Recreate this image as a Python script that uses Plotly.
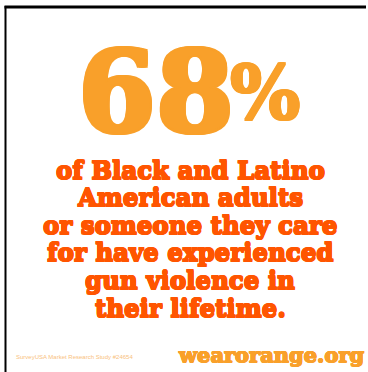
import plotly.graph_objects as go

# ---- data ----
PERCENT_VALUE = 68
PERCENT_SIGN = "%"
STATEMENT_LINES = [
    "of Black and Latino",
    "American adults",
    "or someone they care",
    "for have experienced",
    "gun violence in",
    "their lifetime.",
]
SOURCE_NOTE = "SurveyUSA Market Research Study #24654"
BRAND = "wearorange.org"

# ---- style ----
W, H = 368, 372
ORANGE = "#F9A02A"
RED_ORANGE = "#FF5500"
NOTE_COLOR = "#F9C27E"
SERIF = "DejaVu Serif"


def fatten(color, px):
    return ", ".join(f"{dx}px {dy}px 0 {color}" for dx, dy in
                     [(px, 0), (-px, 0), (0, px), (0, -px),
                      (px, px), (-px, -px), (px, -px), (-px, px)])


fig = go.Figure()
fig.add_trace(go.Scatter(x=[0, W], y=[0, H], mode="markers",
                         marker=dict(opacity=0), hoverinfo="skip", showlegend=False))

ann = []
# big number
ann.append(dict(x=156, y=91, text=str(PERCENT_VALUE), showarrow=False,
                xanchor="center", yanchor="middle",
                font=dict(family=SERIF, size=112, color=ORANGE, weight=700,
                          shadow=fatten(ORANGE, 2))))
ann.append(dict(x=265, y=93, text=PERCENT_SIGN, showarrow=False,
                xanchor="center", yanchor="middle",
                font=dict(family=SERIF, size=74, color=ORANGE, weight=700,
                          shadow=fatten(ORANGE, 1))))

# statement lines
y0, dy = 170, 27.6
for i, line in enumerate(STATEMENT_LINES):
    ann.append(dict(x=190, y=y0 + i * dy, text=line, showarrow=False,
                    xanchor="center", yanchor="middle",
                    font=dict(family=SERIF, size=24.5, color=RED_ORANGE, weight=700,
                              shadow=fatten(RED_ORANGE, 0.6))))

ann.append(dict(x=14, y=357, text=SOURCE_NOTE, showarrow=False,
                xanchor="left", yanchor="middle",
                font=dict(family="Liberation Sans", size=6, color=NOTE_COLOR)))
ann.append(dict(x=366, y=354, text=BRAND, showarrow=False,
                xanchor="right", yanchor="middle",
                font=dict(family=SERIF, size=21, color=ORANGE, weight=700,
                          shadow=fatten(ORANGE, 0.5))))

for a in ann:
    a.update(xref="x", yref="y")

fig.update_layout(
    width=W, height=H,
    margin=dict(l=0, r=0, t=0, b=0),
    paper_bgcolor="white", plot_bgcolor="white",
    xaxis=dict(range=[0, W], visible=False, fixedrange=True),
    yaxis=dict(range=[H, 0], visible=False, fixedrange=True),
    annotations=ann,
    shapes=[
        dict(type="line", xref="x", yref="y", x0=4.5, y0=7, x1=366, y1=7,
             line=dict(color="black", width=3)),
        dict(type="line", xref="x", yref="y", x0=5.5, y0=6, x1=5.5, y1=H,
             line=dict(color="black", width=2)),
    ],
)

fig.write_html("out.html", post_script="document.body.style.margin='0';",
               config={"displayModeBar": False})
